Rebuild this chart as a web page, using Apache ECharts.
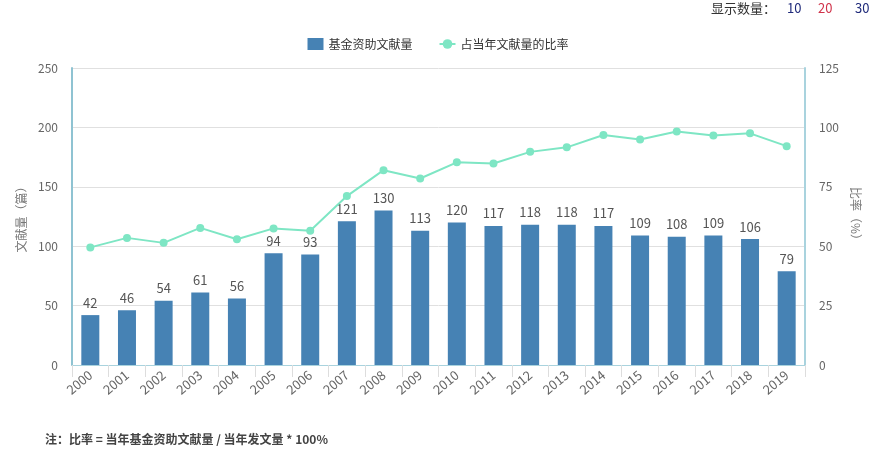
<!DOCTYPE html>
<html><head><meta charset="utf-8">
<script src="https://cdn.jsdelivr.net/npm/echarts@6/dist/echarts.min.js"></script>
<style>html,body{margin:0;padding:0;background:#fff}#c{width:876px;height:449px}</style>
</head><body><div id="c"></div>
<script>
var years = ['2000','2001','2002','2003','2004','2005','2006','2007','2008','2009','2010','2011','2012','2013','2014','2015','2016','2017','2018','2019'];
var fundedCounts = [42,46,54,61,56,94,93,121,130,113,120,117,118,118,117,109,108,109,106,79];
var ratioPct = [49.5,53.5,51.4,57.7,52.9,57.5,56.5,71.1,82.0,78.5,85.3,84.8,89.7,91.6,96.8,94.9,98.3,96.6,97.5,92.1];
var leftTicks = [0,50,100,150,200,250];
var rightTicks = [0,25,50,75,100,125];
var seriesNames = ['基金资助文献量','占当年文献量的比率'];

var font = '"Microsoft YaHei","Noto Sans CJK SC",sans-serif';
var chart = echarts.init(document.getElementById('c'));
chart.setOption({
  animation: false,
  textStyle: {fontFamily: font},
  title: [{
    text: '注：比率 = 当年基金资助文献量 / 当年发文量 * 100%',
    left: 45, top: 433, padding: 0,
    textStyle: {fontSize: 12, fontWeight: 'bold', color: '#444', fontFamily: font}
  }],
  graphic: [
    {type:'text', left: 711, top: 2, style:{text:'显示数量：', fill:'#333', font:'13px ' + font}},
    {type:'text', left: 787, top: 2, style:{text:'10', fill:'#1f2a7a', font:'13px ' + font}},
    {type:'text', left: 818, top: 2, style:{text:'20', fill:'#d0334a', font:'13px ' + font}},
    {type:'text', left: 855, top: 2, style:{text:'30', fill:'#1f2a7a', font:'13px ' + font}}
  ],
  legend: {
    top: 33, left: 'center', itemGap: 26, itemWidth: 16, itemHeight: 12,
    textStyle: {fontSize: 12, color: '#333'},
    data: [{name: seriesNames[0], icon: 'rect'}, {name: seriesNames[1]}]
  },
  grid: {left: 72, right: 71, top: 68, bottom: 84, containLabel: false},
  xAxis: {
    type: 'category', data: years,
    axisLine: {lineStyle: {color: '#a9d3de'}},
    axisTick: {show: true, length: 12, lineStyle: {color: '#ddd'}},
    axisLabel: {rotate: 40, color: '#666', fontSize: 13, margin: 8}
  },
  yAxis: [{
    type: 'value', min: 0, max: 250, interval: 50,
    name: '文献量（篇）', nameLocation: 'middle', nameGap: 44, nameRotate: 90,
    nameTextStyle: {color: '#777', fontSize: 12},
    axisLine: {show: true, lineStyle: {color: '#8fc3d2', width: 2}},
    axisTick: {show: false},
    axisLabel: {color: '#666', fontSize: 12, margin: 14},
    splitLine: {lineStyle: {color: '#e0e0e0'}}
  }, {
    type: 'value', min: 0, max: 125, interval: 25,
    name: '比率（%）', nameLocation: 'middle', nameGap: 44, nameRotate: -90,
    nameTextStyle: {color: '#777', fontSize: 12},
    axisLine: {show: true, lineStyle: {color: '#a9d3de', width: 2}},
    axisTick: {show: false},
    axisLabel: {color: '#666', fontSize: 12, margin: 14},
    splitLine: {show: false}
  }],
  series: [{
    name: seriesNames[0], type: 'bar', data: fundedCounts, barWidth: 18,
    itemStyle: {color: '#4682b4'},
    label: {show: true, position: 'top', color: '#555', fontSize: 13, distance: 6}
  }, {
    name: seriesNames[1], type: 'line', yAxisIndex: 1, data: ratioPct,
    symbol: 'circle', symbolSize: 8,
    lineStyle: {color: '#7ee6c4', width: 2},
    itemStyle: {color: '#7ee6c4'}
  }]
});
</script></body></html>
